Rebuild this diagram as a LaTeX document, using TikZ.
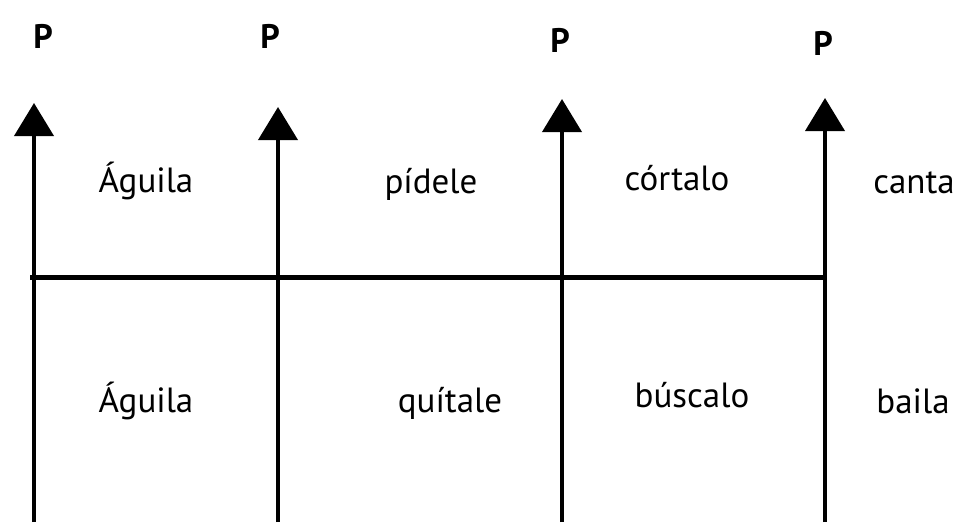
\documentclass[tikz,border=0pt]{standalone}
\usepackage{fontspec}
\setmainfont{PT Sans}
\usetikzlibrary{arrows.meta}
\begin{document}
\begin{tikzpicture}[x=1pt,y=-1pt,
  word/.style={anchor=base,inner sep=0pt,font=\fontsize{35}{42}\selectfont},
  plabel/.style={anchor=base,inner sep=0pt,font=\fontsize{34}{40}\selectfont\bfseries},
  uparrow/.style={line width=4pt,-{Triangle[width=39pt,length=33pt]}},
  crossline/.style={line width=5pt}]
\useasboundingbox (0,0) rectangle (960,522);
% arrow coordinates
\coordinate (b1) at (34,522); \coordinate (t1) at (34,103);
\coordinate (b2) at (278,522); \coordinate (t2) at (278,107);
\coordinate (b3) at (562,522); \coordinate (t3) at (562,99);
\coordinate (b4) at (825,522); \coordinate (t4) at (825,98);
\coordinate (hl) at (30,277); \coordinate (hr) at (827,277);
\draw[uparrow] (b1) -- (t1);
\draw[uparrow] (b2) -- (t2);
\draw[uparrow] (b3) -- (t3);
\draw[uparrow] (b4) -- (t4);
\draw[crossline] (hl) -- (hr);
% P labels
\node[plabel] (p1) at (43,48) {P};
\node[plabel] (p2) at (270,48) {P};
\node[plabel] (p3) at (560,52) {P};
\node[plabel] (p4) at (823,55) {P};
% words
\node[word] (w1) at (146,192) {Águila};
\node[word] (w2) at (431,193) {pídele};
\node[word] (w3) at (677,190) {córtalo};
\node[word] (w4) at (914,193) {canta};
\node[word] (w5) at (146,412) {Águila};
\node[word] (w6) at (450,412) {quítale};
\node[word] (w7) at (692,407) {búscalo};
\node[word] (w8) at (913,413) {baila};
\end{tikzpicture}
\end{document}
